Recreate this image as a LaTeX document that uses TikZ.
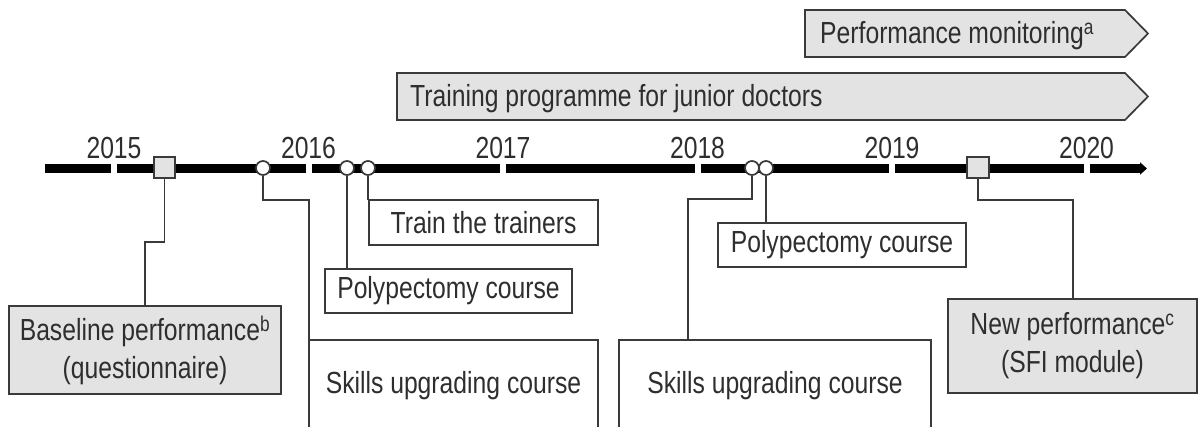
\documentclass[tikz,border=0pt]{standalone}
\usepackage{fontspec}
\setmainfont{Liberation Sans}[FakeStretch=0.81]
\usepackage{tikz}
\usetikzlibrary{arrows.meta,positioning,calc}
\definecolor{LineGray}{HTML}{3A3A3A}
\definecolor{BoxGray}{HTML}{E3E3E3}
\definecolor{TextGray}{HTML}{2E2E2E}

\begin{document}
\begin{tikzpicture}[x=1pt,y=-1pt,
  frame/.style={draw=LineGray,line width=1.7pt},
  txt/.style={text=TextGray,font=\fontsize{30.5}{38}\selectfont,align=center,inner sep=0pt},
  evbox/.style={frame,txt,fill=white,rectangle,outer sep=0pt},
  keybox/.style={evbox,fill=BoxGray},
  sqmark/.style={frame,fill=BoxGray,rectangle,minimum size=21.5pt,inner sep=0pt},
  dotmark/.style={frame,fill=white,circle,minimum size=14pt,inner sep=0pt},
  link/.style={draw=LineGray,line width=1.7pt}]
  \useasboundingbox[fill=white] (0,0) rectangle (1199,426);

  % Barras de periodo arriba, luego la linea de tiempo y los eventos.
  \draw[frame,fill=BoxGray] (805,10)--(1125,10)--(1148,33.5)--(1125,57)--(805,57)--cycle;
  \node[txt,anchor=west] (monitor) at (820,35.5) {Performance monitoring\textsuperscript{a}};
  \draw[frame,fill=BoxGray] (397,73)--(1125,73)--(1148,96.5)--(1125,120)--(397,120)--cycle;
  \node[txt,anchor=west] (programme) at (410,98.5) {Training programme for junior doctors};

  \coordinate (tstart) at (45,168.5);
  \coordinate (tend) at (1147,168.5);
  \draw[line width=9pt,-{Triangle[length=7pt,width=12pt]}] (tstart)--(tend);
  \foreach \yr [count=\i from 0] in {2015,...,2020}{
    \pgfmathsetmacro\gx{114+194.5*\i}
    \fill[white] (\gx-3,162) rectangle (\gx+3,175);
    \node[txt] (y\yr) at (\gx,147.5) {\yr};
  }

  \node[sqmark] (sqA) at (164.5,167.5) {};
  \node[sqmark] (sqB) at (978,167.5) {};
  \node[dotmark] (dA) at (263,168) {};
  \node[dotmark] (dB) at (347,168) {};
  \node[dotmark] (dC) at (368,168) {};
  \node[dotmark] (dD) at (752,168) {};
  \node[dotmark] (dE) at (766,168) {};

  \node[keybox,minimum width=272.3pt,minimum height=88.3pt] (baseline) at (145,350)
        {Baseline performance\textsuperscript{b}\\(questionnaire)};
  \node[evbox,minimum width=229.3pt,minimum height=45.3pt] (trainers) at (483.5,222.5) {Train the trainers};
  \node[evbox,minimum width=247.3pt,minimum height=44.3pt] (polypA) at (448.5,291) {Polypectomy course};
  \node[evbox,minimum width=289pt,minimum height=92pt,anchor=north] (skillsA) at (453.5,339.8) {Skills upgrading course};
  \node[evbox,minimum width=248.3pt,minimum height=44.3pt] (polypB) at (842,245) {Polypectomy course};
  \node[evbox,minimum width=312.3pt,minimum height=92pt,anchor=north] (skillsB) at (775,339.8) {Skills upgrading course};
  \node[keybox,minimum width=249.3pt,minimum height=94.3pt] (newperf) at (1072.5,346)
        {New performance\textsuperscript{c}\\(SFI module)};

  \coordinate (kA) at (164.5,242);
  \coordinate (kB) at (309,200);
  \coordinate (kD) at (688,199);
  \coordinate (kF) at (1073,200);
  \draw[link] (sqA.south)--(kA) -| (baseline.north);
  \draw[link] (dA.south) |- (kB)--(kB |- skillsA.north);
  \draw[link] (dB.south)--(dB.south |- polypA.north);
  \draw[link] (dC.south)--(dC.south |- trainers.north);
  \draw[link] (dD.south) |- (kD)--(kD |- skillsB.north);
  \draw[link] (dE.south)--(dE.south |- polypB.north);
  \draw[link] (sqB.south) |- (kF)--(kF |- newperf.north);
\end{tikzpicture}
\end{document}
